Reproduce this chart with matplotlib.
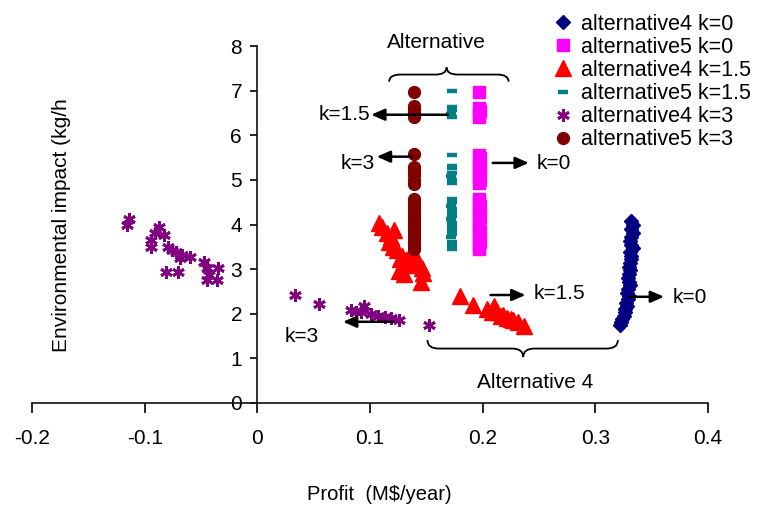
import matplotlib
matplotlib.use("Agg")
import matplotlib.pyplot as plt
from matplotlib.path import Path
from matplotlib.patches import PathPatch

plt.rcParams['font.family'] = ['Liberation Sans', 'DejaVu Sans']

# ---------------- data ----------------
alt4_k0_x = [0.332, 0.333, 0.332, 0.333, 0.332, 0.331, 0.332, 0.333, 0.331, 0.332,
             0.332, 0.331, 0.330, 0.331, 0.330, 0.329, 0.330, 0.331, 0.329, 0.328,
             0.330, 0.329, 0.327, 0.328, 0.326, 0.326, 0.325, 0.324, 0.323, 0.322]
alt4_k0_y = [4.08, 3.98, 3.90, 3.80, 3.72, 3.64, 3.55, 3.47, 3.38, 3.30,
             3.22, 3.14, 3.05, 2.97, 2.88, 2.80, 2.72, 2.64, 2.55, 2.47,
             2.40, 2.33, 2.25, 2.18, 2.10, 2.03, 1.96, 1.88, 1.81, 1.75]

alt5_k0_y = [6.98, 6.62, 6.55, 6.48, 6.41,
             5.56, 5.48, 5.40, 5.32, 5.24, 5.16, 5.08, 5.00, 4.92,
             4.57, 4.49, 4.41, 4.33, 4.25, 4.17, 4.09, 4.01, 3.93, 3.85,
             3.77, 3.69, 3.61, 3.53, 3.45]
alt5_k0_x = [0.197, 0.197, 0.198, 0.197, 0.197,
             0.197, 0.198, 0.197, 0.197, 0.198, 0.197, 0.197, 0.198, 0.197,
             0.197, 0.197, 0.198, 0.197, 0.197, 0.198, 0.197, 0.197, 0.197, 0.198,
             0.197, 0.197, 0.198, 0.197, 0.197]

alt4_k15_x = [0.108, 0.111, 0.121, 0.119, 0.117, 0.120, 0.124, 0.128, 0.127, 0.132,
              0.137, 0.141, 0.143, 0.146, 0.147, 0.145, 0.126, 0.130, 0.115, 0.135,
              0.180, 0.191, 0.204, 0.208, 0.210, 0.213, 0.216, 0.218, 0.222,
              0.225, 0.227, 0.231, 0.237]
alt4_k15_y = [4.03, 3.95, 3.88, 3.72, 3.60, 3.50, 3.42, 3.30, 3.22, 3.20,
              3.40, 3.25, 3.15, 3.03, 2.92, 2.72, 2.95, 2.90, 3.80, 3.10,
              2.40, 2.20, 2.10, 2.05, 2.18, 2.03, 1.95, 1.97, 1.90,
              1.88, 1.85, 1.82, 1.72]

alt5_k15_y = [7.00, 6.64, 6.56, 6.48, 6.41, 5.56, 5.32, 5.27, 5.16, 5.09,
              5.00, 4.93, 4.58, 4.50, 4.42, 4.34, 4.26, 4.20, 4.12, 4.04,
              3.96, 3.90, 3.84, 3.78, 3.72, 3.60, 3.52, 3.44]
alt5_k15_x = [0.173, 0.173, 0.173, 0.172, 0.173, 0.173, 0.173, 0.173, 0.173, 0.172,
              0.173, 0.173, 0.173, 0.173, 0.172, 0.173, 0.173, 0.173, 0.172, 0.173,
              0.173, 0.173, 0.173, 0.173, 0.172, 0.173, 0.173, 0.173]

alt4_k3_x = [-0.114, -0.116, -0.087, -0.091, -0.094, -0.083, -0.094, -0.079, -0.076,
             -0.072, -0.067, -0.060, -0.081, -0.070, -0.047, -0.045, -0.045, -0.035,
             -0.036, -0.043, -0.069,
             0.033, 0.055, 0.083, 0.095, 0.092, 0.101, 0.107, 0.113, 0.119, 0.126,
             0.152, 0.088]
alt4_k3_y = [4.12, 3.99, 3.95, 3.81, 3.65, 3.77, 3.50, 3.50, 3.43,
             3.39, 3.32, 3.27, 2.94, 2.94, 3.16, 3.03, 2.76, 3.03,
             2.76, 2.87, 3.25,
             2.42, 2.22, 2.08, 2.18, 2.04, 2.00, 1.96, 1.93, 1.91, 1.86,
             1.75, 2.04]

alt5_k3_y = [6.98, 6.66, 6.58, 6.50, 6.42, 5.58, 5.29, 5.20, 5.10, 5.00, 4.91,
             4.57, 4.49, 4.41, 4.33, 4.25, 4.17, 4.09, 4.01, 3.93, 3.85,
             3.77, 3.69, 3.61, 3.53, 3.45]
alt5_k3_x = [0.139] * len(alt5_k3_y)

x_ticks = [-0.2, -0.1, 0, 0.1, 0.2, 0.3, 0.4]
x_tick_labels = ['-0.2', '-0.1', '0', '0.1', '0.2', '0.3', '0.4']
y_ticks = [0, 1, 2, 3, 4, 5, 6, 7, 8]

# ---------------- figure ----------------
W, H = 761, 513
fig = plt.figure(figsize=(W / 100, H / 100), dpi=100)
ax = fig.add_axes([32 / W, (H - 403) / H, (708 - 32) / W, (403 - 46) / H])

ax.plot(alt4_k0_x, alt4_k0_y, linestyle='none', marker='D', ms=7,
        color='#000080', label='alternative4 k=0')
ax.plot(alt5_k0_x, alt5_k0_y, linestyle='none', marker='s', ms=9,
        color='#FF00FF', label='alternative5 k=0')
ax.plot(alt4_k15_x, alt4_k15_y, linestyle='none', marker='^', ms=11,
        color='#FF0000', label='alternative4 k=1.5')
ax.plot(alt5_k15_x, alt5_k15_y, linestyle='none', marker='_', ms=7, mew=3.2,
        color='#008080', label='alternative5 k=1.5')
ax.plot(alt4_k3_x, alt4_k3_y, linestyle='none', marker=(6, 2, 0), ms=9, mew=2,
        color='#800080', label='alternative4 k=3')
ax.plot(alt5_k3_x, alt5_k3_y, linestyle='none', marker='o', ms=8.5,
        color='#800000', label='alternative5 k=3')

ax.set_xlim(-0.2, 0.4)
ax.set_ylim(0, 8)
ax.spines['top'].set_visible(False)
ax.spines['right'].set_visible(False)
ax.spines['left'].set_position(('data', 0))
for s in ('left', 'bottom'):
    ax.spines[s].set_linewidth(1.2)
    ax.spines[s].set_color('#111111')
ax.set_xticks(x_ticks)
ax.set_xticklabels(x_tick_labels)
ax.set_yticks(y_ticks)
ax.tick_params(axis='x', direction='out', length=7, width=1.2, pad=12, labelsize=15)
ax.tick_params(axis='y', direction='out', length=5, width=1.2, pad=6, labelsize=15)

fig.text(62 / W, 1 - 225 / H, 'Environmental impact (kg/h', rotation=90,
         ha='center', va='center', fontsize=15)
fig.text(379 / W, 1 - 495 / H, 'Profit  (M$/year)', ha='center', va='center',
         fontsize=14.5)

leg = fig.legend(loc='upper left', bbox_to_anchor=(545 / W, 1 - 5 / H),
                 frameon=False, fontsize=15.5, numpoints=1, handlelength=0.9,
                 handletextpad=0.35, labelspacing=0.1, borderaxespad=0)

# ---------------- annotations ----------------
arrow_kw = dict(arrowstyle='-|>,head_length=0.8,head_width=0.35', color='black', lw=1.8,
                shrinkA=0, shrinkB=0)


def arrow(x0, y0, x1, y1):
    ax.annotate('', xy=(x1, y1), xytext=(x0, y0), arrowprops=arrow_kw,
                annotation_clip=False)


arrow(0.169, 6.46, 0.101, 6.46)
arrow(0.137, 5.52, 0.106, 5.52)
arrow(0.209, 5.38, 0.241, 5.38)
arrow(0.207, 2.42, 0.238, 2.42)
arrow(0.330, 2.38, 0.361, 2.38)
arrow(0.121, 1.82, 0.076, 1.82)

tk = dict(fontsize=15, va='center')
ax.text(0.100, 6.46, 'k=1.5', ha='right', **tk)
ax.text(0.104, 5.36, 'k=3', ha='right', **tk)
ax.text(0.248, 5.36, 'k=0', ha='left', **tk)
ax.text(0.245, 2.46, 'k=1.5', ha='left', **tk)
ax.text(0.369, 2.36, 'k=0', ha='left', **tk)
ax.text(0.024, 1.50, 'k=3', ha='left', **tk)
ax.text(0.159, 8.07, 'Alternative', ha='center', va='center', fontsize=15, clip_on=False)
ax.text(0.247, 0.45, 'Alternative 4', ha='center', va='center', fontsize=15)


def brace(xa, xb, xm, y0, ym):
    y1 = (y0 + ym) / 2
    r = 0.010
    verts = [(xa, y0), (xa, y1), (xa + r, y1),
             (xm - r, y1), (xm, y1), (xm, ym),
             (xm, y1), (xm + r, y1),
             (xb - r, y1), (xb, y1), (xb, y0)]
    codes = [Path.MOVETO, Path.CURVE3, Path.CURVE3,
             Path.LINETO, Path.CURVE3, Path.CURVE3,
             Path.CURVE3, Path.CURVE3,
             Path.LINETO, Path.CURVE3, Path.CURVE3]
    p = PathPatch(Path(verts, codes), fill=False, lw=1.3, color='black',
                  clip_on=False)
    ax.add_patch(p)


brace(0.117, 0.223, 0.168, 7.20, 7.52)
brace(0.151, 0.320, 0.236, 1.41, 1.03)

fig.savefig('out.png', dpi=100)
